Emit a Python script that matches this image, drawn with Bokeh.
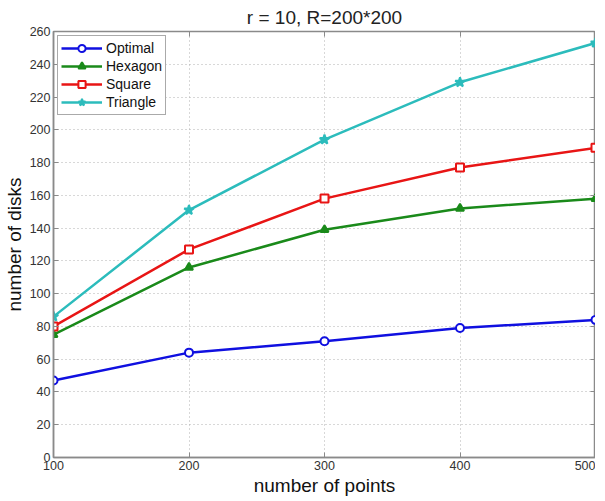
from bokeh.plotting import figure
from bokeh.models import LinearAxis, Range1d, FixedTicker, Legend, CustomJSTickFormatter
from bokeh.embed import file_html
from bokeh.resources import INLINE

x_points = [100, 200, 300, 400, 500]
optimal = [47, 64, 71, 79, 84]
hexagon = [75, 116, 139, 152, 158]
square = [80, 127, 158, 177, 189]
triangle = [86, 151, 194, 229, 253]

x_ticks = [100, 200, 300, 400, 500]
y_ticks = list(range(0, 261, 20))

FONT = "Liberation Sans"
AX = "#8a8a8a"

p = figure(frame_width=542, frame_height=426, output_backend="svg", toolbar_location=None,
           x_range=Range1d(100, 500), y_range=Range1d(0, 260),
           min_border_left=46, min_border_right=0, min_border_top=0, min_border_bottom=0,
           title="r = 10, R=200*200")
p.title.align = "center"
p.title.text_font = FONT
p.title.text_font_size = "19px"
p.title.text_font_style = "normal"
p.title.text_color = "#222222"
p.title.offset = 0
p.title.standoff = 8

p.outline_line_color = AX
p.outline_line_width = 1.5

for ax in [p.xaxis[0], p.yaxis[0]]:
    ax.major_tick_in = 5
    ax.major_tick_out = 0
    ax.minor_tick_in = 0
    ax.minor_tick_out = 0
    ax.axis_line_color = AX
    ax.axis_line_width = 1.5
    ax.major_tick_line_color = AX
    ax.major_label_text_font = FONT
    ax.major_label_text_font_size = "12.5px"
    ax.major_label_text_color = "#333333"
    ax.axis_label_text_font = FONT
    ax.axis_label_text_font_size = "19px"
    ax.axis_label_text_font_style = "normal"
    ax.axis_label_text_color = "#111111"
    ax.major_label_standoff = 3
    ax.axis_label_standoff = 2

p.xaxis.ticker = FixedTicker(ticks=x_ticks)
p.yaxis.ticker = FixedTicker(ticks=y_ticks)
p.xaxis.axis_label = "number of points"
p.yaxis.axis_label = "number of disks"

blank = CustomJSTickFormatter(code="return '';")
ra = LinearAxis(ticker=FixedTicker(ticks=y_ticks), formatter=blank,
                major_tick_in=5, major_tick_out=0, minor_tick_in=0, minor_tick_out=0,
                axis_line_color=AX, major_tick_line_color=AX, major_label_standoff=0)
p.add_layout(ra, "right")
ta = LinearAxis(ticker=FixedTicker(ticks=x_ticks), formatter=blank,
                major_tick_in=5, major_tick_out=0, minor_tick_in=0, minor_tick_out=0,
                axis_line_color=AX, major_tick_line_color=AX, major_label_standoff=0)
p.add_layout(ta, "above")

p.grid.grid_line_color = "#b0b0b0"
p.grid.grid_line_dash = "1 3"
p.grid.grid_line_width = 1

series = [
    ("Optimal", optimal, "#1010e0", "circle", "white"),
    ("Hexagon", hexagon, "#1a8a1a", "triangle", None),
    ("Square", square, "#e81515", "square", "white"),
    ("Triangle", triangle, "#2cbcbc", "star", None),
]
items = []
for name, ys, col, mk, fill in series:
    l = p.line(x_points, ys, line_color=col, line_width=2.5)
    s = p.scatter(x_points, ys, marker=mk, size=8 if mk != "star" else 10,
                  line_color=col, line_width=2,
                  fill_color=fill if fill else col)
    items.append((name, [l, s]))

leg = Legend(items=items, location="top_left")
leg.label_text_font = FONT
leg.label_text_font_size = "14px"
leg.label_text_color = "#111111"
leg.border_line_color = "#555555"
leg.border_line_width = 1
leg.background_fill_color = "white"
leg.background_fill_alpha = 1
leg.glyph_width = 41
leg.glyph_height = 18
leg.label_height = 18
leg.spacing = 0
leg.padding = 3
leg.margin = 4
leg.label_standoff = 4
p.add_layout(leg)

open("out.html", "w").write(file_html(p, INLINE))
